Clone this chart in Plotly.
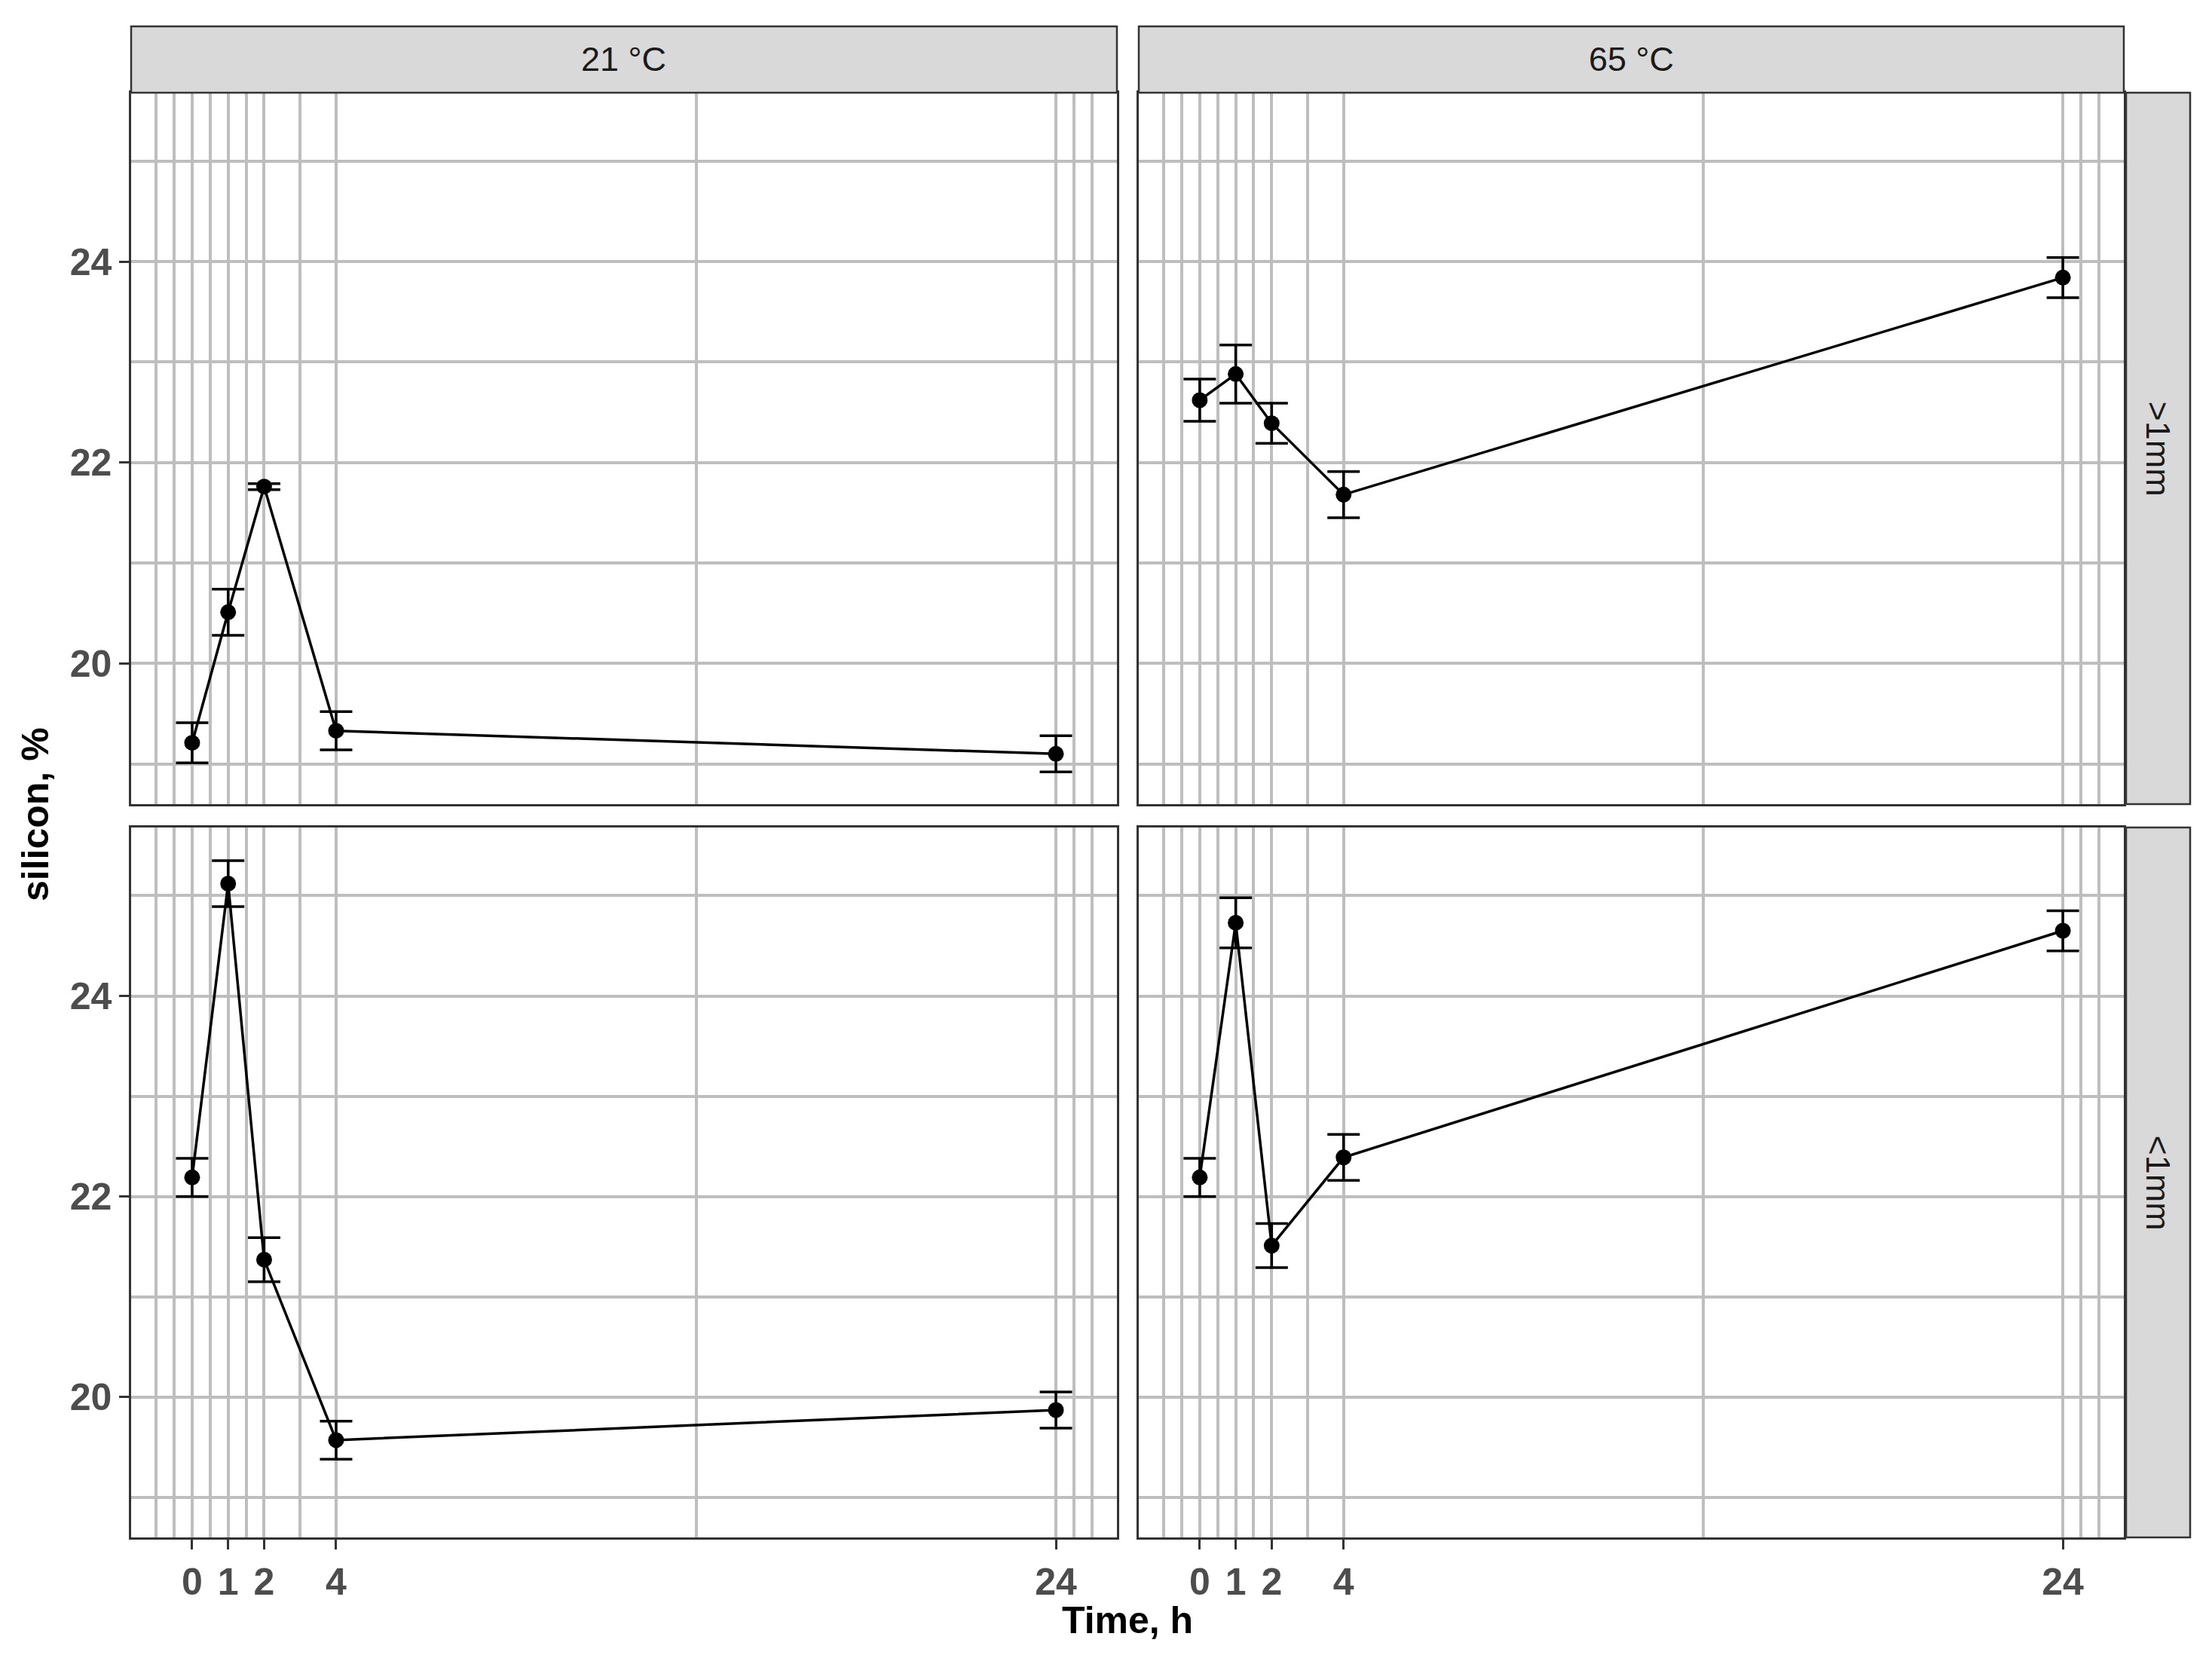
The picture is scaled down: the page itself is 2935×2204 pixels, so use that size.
import plotly.graph_objects as go

# ---- data ----
time_h = [0, 1, 2, 4, 24]
temps = ["21 °C", "65 °C"]
sizes = [">1mm", "<1mm"]

si_21_gt1 = [19.21, 20.51, 21.76, 19.33, 19.10]
err_21_gt1 = [0.20, 0.23, 0.03, 0.19, 0.18]
si_65_gt1 = [22.62, 22.88, 22.39, 21.68, 23.84]
err_65_gt1 = [0.21, 0.29, 0.20, 0.23, 0.20]
si_21_lt1 = [22.19, 25.12, 21.37, 19.57, 19.87]
err_21_lt1 = [0.19, 0.23, 0.22, 0.19, 0.18]
si_65_lt1 = [22.19, 24.73, 21.51, 22.39, 24.65]
err_65_lt1 = [0.19, 0.25, 0.22, 0.23, 0.20]

x_major = [0, 1, 2, 4, 24]
x_minor = [-1, -0.5, 0.5, 1.5, 3, 14, 24.5, 25]
y_major = [20, 22, 24]
y_minor = [19, 21, 23, 25]

W, H = 2935, 2204
px = lambda v: v / W
py = lambda v: 1 - v / H

col_dom = [(174, 1482), (1511, 2818)]
row_dom = [(123, 1067), (1098, 2040)]

panels = [
    (0, 0, si_21_gt1, err_21_gt1),
    (0, 1, si_65_gt1, err_65_gt1),
    (1, 0, si_21_lt1, err_21_lt1),
    (1, 1, si_65_lt1, err_65_lt1),
]

fig = go.Figure()
grid_col = "#BEBEBE"
frame_col = "#333333"
tick_font = dict(family="Liberation Sans, Arial, sans-serif", size=50, color="#4D4D4D")

layout_axes = {}
for i, (r, c, vals, errs) in enumerate(panels):
    n = i + 1
    xa = "x" if n == 1 else f"x{n}"
    ya = "y" if n == 1 else f"y{n}"
    fig.add_trace(go.Scatter(
        x=time_h, y=vals, xaxis=xa, yaxis=ya, mode="lines+markers",
        line=dict(color="black", width=3.5),
        marker=dict(color="black", size=21),
        error_y=dict(type="data", array=errs, visible=True, color="black",
                     thickness=3.5, width=21.5),
        showlegend=False, hoverinfo="skip",
    ))
    xkey = "xaxis" if n == 1 else f"xaxis{n}"
    ykey = "yaxis" if n == 1 else f"yaxis{n}"
    x0, x1 = col_dom[c]
    y0, y1 = row_dom[r]
    layout_axes[xkey] = dict(
        domain=[px(x0), px(x1)], range=[-1.695, 25.695], anchor=ya,
        tickmode="array", tickvals=x_major, ticktext=[str(v) for v in x_major],
        showticklabels=(r == 1), ticks="outside" if r == 1 else "",
        ticklen=13, tickwidth=3, tickcolor=frame_col,
        tickfont=tick_font, showgrid=True, gridcolor=grid_col, gridwidth=3.5,
        minor=dict(tickvals=x_minor, showgrid=True, gridcolor=grid_col, gridwidth=3.5, ticks=""),
        showline=True, mirror=True, linecolor=frame_col, linewidth=2.5,
        zeroline=False,
    )
    layout_axes[ykey] = dict(
        domain=[py(y1), py(y0)], range=[18.6, 25.68], anchor=xa,
        tickmode="array", tickvals=y_major, ticktext=[str(v) for v in y_major],
        showticklabels=(c == 0), ticks="outside" if c == 0 else "",
        ticklen=13, tickwidth=3, tickcolor=frame_col,
        tickfont=tick_font, showgrid=True, gridcolor=grid_col, gridwidth=3.5,
        minor=dict(tickvals=y_minor, showgrid=True, gridcolor=grid_col, gridwidth=3.5, ticks=""),
        showline=True, mirror=True, linecolor=frame_col, linewidth=2.5,
        zeroline=False,
    )

shapes = []
annotations = []
strip_font = dict(family="Liberation Sans, Arial, sans-serif", size=45, color="#1A1A1A")
# top strips
for c, lab in enumerate(temps):
    x0, x1 = col_dom[c]
    shapes.append(dict(type="rect", xref="paper", yref="paper",
                       x0=px(x0), x1=px(x1), y0=py(123), y1=py(35),
                       fillcolor="#D9D9D9", line=dict(color=frame_col, width=2.5)))
    annotations.append(dict(text=lab, xref="paper", yref="paper",
                            x=px((x0 + x1) / 2), y=py(79), showarrow=False,
                            xanchor="center", yanchor="middle", font=strip_font))
# right strips
for r, lab in enumerate(sizes):
    y0, y1 = row_dom[r]
    shapes.append(dict(type="rect", xref="paper", yref="paper",
                       x0=px(2821), x1=px(2906), y0=py(y1), y1=py(y0),
                       fillcolor="#D9D9D9", line=dict(color=frame_col, width=2.5)))
    annotations.append(dict(text=lab, xref="paper", yref="paper",
                            x=px(2863.5), y=py((y0 + y1) / 2), showarrow=False,
                            textangle=90, xanchor="center", yanchor="middle", font=strip_font))

title_font = dict(family="Liberation Sans, Arial, sans-serif", size=50, color="black")
annotations.append(dict(text="<b>Time, h</b>", xref="paper", yref="paper",
                        x=px(1496), y=py(2150), showarrow=False,
                        xanchor="center", yanchor="middle", font=title_font))
annotations.append(dict(text="<b>silicon, %</b>", xref="paper", yref="paper",
                        x=px(47), y=py(1081), showarrow=False, textangle=-90,
                        xanchor="center", yanchor="middle", font=title_font))

fig.update_layout(
    width=W, height=H, margin=dict(l=0, r=0, t=0, b=0),
    paper_bgcolor="white", plot_bgcolor="white",
    shapes=shapes, annotations=annotations,
    font=dict(family="Liberation Sans, Arial, sans-serif"),
    **layout_axes,
)
# bold tick labels
for k in list(layout_axes.keys()):
    fig.layout[k].tickfont.weight = "bold"

fig.write_html("out.html", config={"displayModeBar": False},
               post_script="document.body.style.margin='0';document.body.style.overflow='hidden';")
